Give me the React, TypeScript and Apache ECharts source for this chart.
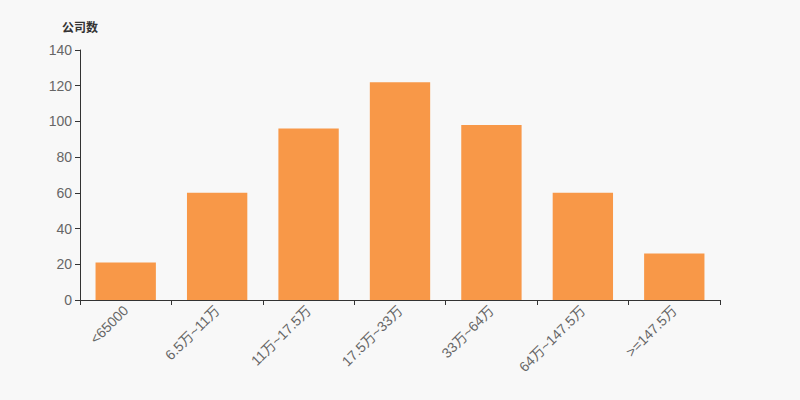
import React, { useEffect, useRef } from "react";
import * as echarts from "echarts";

const categories = ["<65000", "6.5万~11万", "11万~17.5万", "17.5万~33万", "33万~64万", "64万~147.5万", ">=147.5万"];
const companyCounts = [21, 60, 96, 122, 98, 60, 26];
const yAxisName = "公司数";

export default function App() {
  const ref = useRef<HTMLDivElement>(null);
  useEffect(() => {
    document.body.style.margin = "0";
    document.body.style.background = "#f8f8f8";
    const chart = echarts.init(ref.current!, undefined, { renderer: "svg" });
    chart.setOption({
      animation: false,
      backgroundColor: "#f8f8f8",
      textStyle: { fontFamily: "Arial, 'Liberation Sans', 'Noto Sans CJK SC', sans-serif" },
      grid: { left: 80, right: 80, top: 50, bottom: 100, containLabel: false },
      xAxis: {
        type: "category",
        data: categories,
        axisLine: { lineStyle: { color: "#333", width: 1 } },
        axisTick: { show: true, lineStyle: { color: "#333" } },
        axisLabel: { rotate: 45, color: "#666", fontSize: 14, interval: 0, margin: 8 },
      },
      yAxis: {
        type: "value",
        min: 0,
        max: 140,
        interval: 20,
        name: yAxisName,
        nameGap: 16,
        nameTextStyle: { color: "#333", fontSize: 12, fontWeight: "bold" },
        axisLine: { show: true, lineStyle: { color: "#333", width: 1 } },
        axisTick: { show: true, lineStyle: { color: "#333" } },
        axisLabel: { color: "#666", fontSize: 14, margin: 8 },
        splitLine: { show: false },
      },
      series: [
        {
          type: "bar",
          data: companyCounts,
          barCategoryGap: "34%",
          itemStyle: { color: "#f89848" },
        },
      ],
    });
    return () => chart.dispose();
  }, []);
  return <div ref={ref} style={{ width: 800, height: 400 }} />;
}
